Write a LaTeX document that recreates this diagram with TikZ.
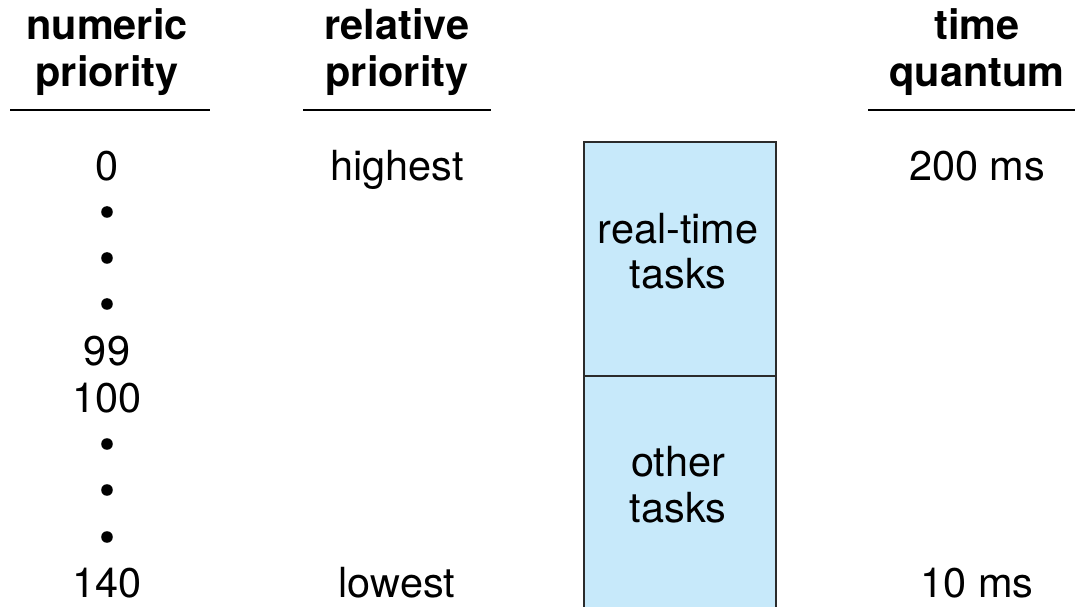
\documentclass[tikz,border=0pt]{standalone}
\usepackage{fontspec}
\setmainfont{TeX Gyre Heros}
\definecolor{taskblue}{HTML}{C7E9FA}
\definecolor{boxline}{HTML}{2B2B2B}
\begin{document}
\begin{tikzpicture}[x=0.02cm,y=-0.02cm,
  lbl/.style={font=\fontsize{23.6}{27}\selectfont, anchor=base, inner sep=0pt},
  head/.style={lbl, font=\fontsize{23.6}{27}\selectfont\bfseries},
  pdot/.style={circle, fill=black, inner sep=0pt, minimum size=6.6pt},
  taskbox/.style={draw=boxline, fill=taskblue, line width=1.15pt, minimum width=3.84cm, inner sep=0pt}]
\useasboundingbox (0,0) rectangle (1075,607);
% column heads
\foreach \x/\n/\top/\bot in {107/num/numeric/priority,397/rel/relative/priority,977/tq/time/quantum}{
  \node[head] (\n top) at (\x,40) {\top};
  \node[head] (\n bot) at (\x,87) {\bot};
}
\draw[line width=1.1pt] (10,110) -- (210,110);
\draw[line width=1.1pt] (303,110) -- (491,110);
\draw[line width=1.1pt] (868,110) -- (1075,110);
% numeric priority
\foreach \n/\y/\texto in {p0/181/0,p99/366/99,p100/413/100,p140/598/140}
  \node[lbl] (\n) at (107,\y) {\texto};
\foreach \y in {212,258,304,444,490,537} % the dots
  \node[pdot] (d\y) at (107,\y) {};
% relative priority and time quantum
\node[lbl] (high) at (397,181) {highest};
\node[lbl] (low) at (397,598) {lowest};
\node[lbl] (q200) at (977,181) {200 ms};
\node[lbl] (q10) at (977,598) {10 ms};
% the task bands
\node[taskbox, minimum height=5.4cm] (other) at (680,511) {};
\node[taskbox, minimum height=4.68cm] (rt) at (680,259) {};
\node[lbl] (rt1) at (678,244) {real-time};
\node[lbl] (rt2) at (678,289) {tasks};
\node[lbl] (ot1) at (678,477) {other};
\node[lbl] (ot2) at (678,522) {tasks};
\end{tikzpicture}
\end{document}
